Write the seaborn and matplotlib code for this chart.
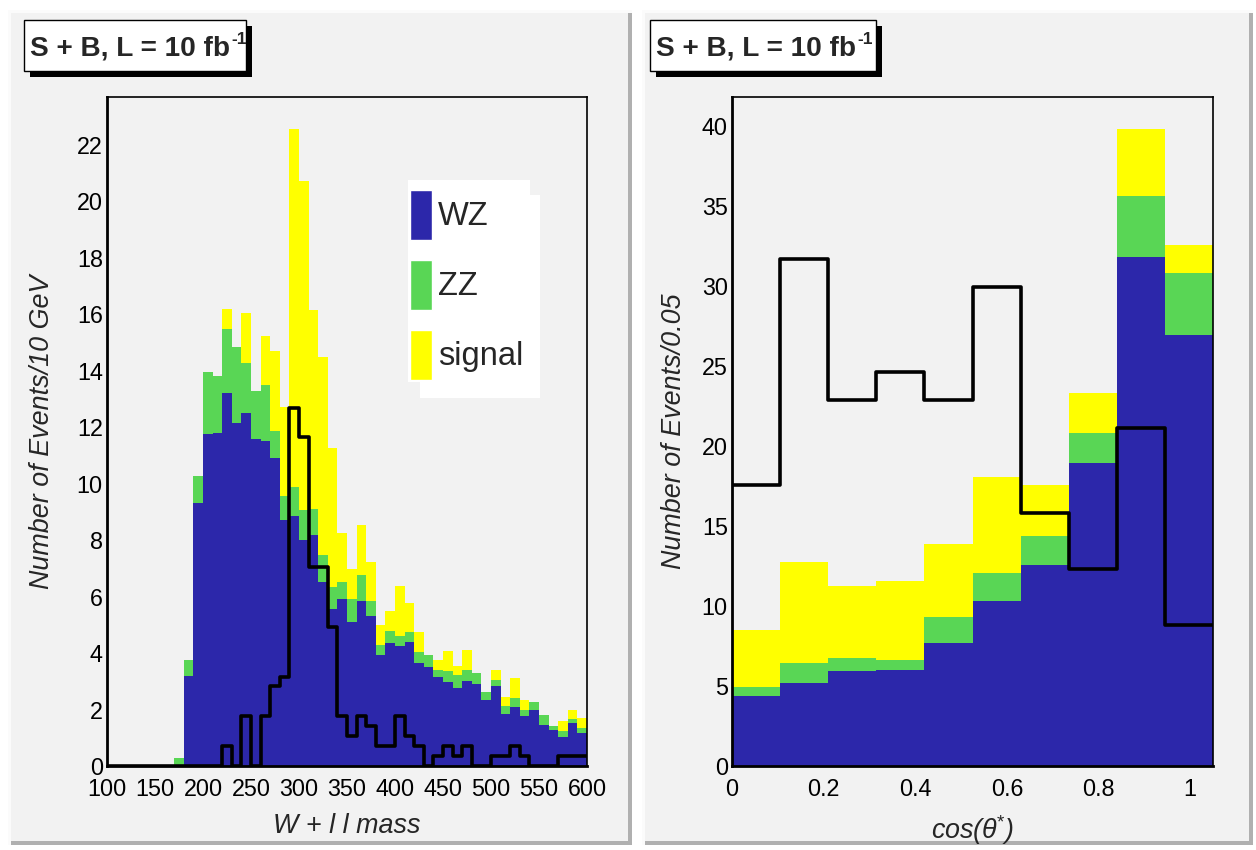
import numpy as np
import pandas as pd
import matplotlib
matplotlib.use("Agg")
import matplotlib.pyplot as plt
from matplotlib import font_manager
from matplotlib.patches import Rectangle, Patch
from matplotlib.ticker import MultipleLocator
import seaborn as sns

# ---------------- data (left panel: W + l l mass, 10 GeV bins from 100 to 600) ----------------
mass_edges_lo = 100
mass_edges_hi = 600
mass_binwidth = 10

wz_mass = [0, 0, 0, 0, 0, 0, 0,
           0, 3.18, 9.31, 11.77, 11.80, 13.22, 12.16, 12.50, 11.60, 11.50, 10.90, 8.70,
           8.87, 8.02, 8.17, 6.51, 5.57, 5.92, 5.09, 5.83, 5.33, 3.95, 4.35, 4.24, 4.41,
           3.64, 3.52, 3.15, 2.99, 2.76, 3.02, 2.90, 2.33, 2.83, 1.85, 2.08, 1.76, 1.97,
           1.47, 1.28, 1.02, 1.53, 1.18]
zz_mass = [0, 0, 0, 0, 0, 0, 0,
           0.29, 0.56, 0.98, 2.18, 2.03, 2.27, 2.70, 1.79, 1.67, 1.98, 0.98, 0.86,
           1.03, 1.05, 0.94, 0.95, 0.76, 0.59, 0.83, 0.95, 0.50, 0.35, 0.45, 0.38, 0.32,
           0.39, 0.43, 0.26, 0.38, 0.45, 0.39, 0.38, 0.30, 0.23, 0.26, 0.34, 0.24, 0.28,
           0.33, 0.15, 0.21, 0.12, 0.18]
signal_mass = [0, 0, 0, 0, 0, 0, 0,
               0, 0, 0, 0, 0, 0.70, 0, 1.76, 0, 1.76, 2.82, 3.17,
               12.67, 11.64, 7.04, 7.04, 4.93, 1.76, 1.06, 1.76, 1.41, 0.70, 0.70, 1.76, 1.06,
               0.70, 0, 0.35, 0.70, 0.35, 0.70, 0, 0, 0.35, 0.35, 0.70, 0.35, 0,
               0, 0, 0.35, 0.35, 0.35]

# ---------------- data (right panel: cos(theta*), 10 bins from 0 to 1.05) ----------------
cos_lo = 0.0
cos_hi = 1.05
cos_nbins = 10
wz_cos = [4.38, 5.21, 5.94, 6.01, 7.70, 10.31, 12.58, 18.92, 31.81, 26.91]
zz_cos = [0.58, 1.21, 0.78, 0.62, 1.62, 1.77, 1.81, 1.90, 3.80, 3.90]
signal_cos = [3.53, 6.35, 4.54, 4.95, 4.57, 5.96, 3.19, 2.46, 4.19, 1.73]
signal_shape_cos = [17.57, 31.69, 22.86, 24.61, 22.86, 29.91, 15.83, 12.31, 21.11, 8.78]

legend_labels = ["WZ", "ZZ", "signal"]
title_main = "S + B, L = 10 fb"
title_sup = "-1"
xlabel_left = "W + l l mass"
ylabel_left = "Number of Events/10 GeV"
xlabel_right = r"cos(θ$^{*}$)"
ylabel_right = "Number of Events/0.05"

# ---------------- style ----------------
C_WZ = "#2c27aa"
C_ZZ = "#59d655"
C_SIG = "#ffff00"
BG = "#f2f2f2"

sns.set_theme(style="white")

names = {f.name for f in font_manager.fontManager.ttflist}
if "Liberation Sans Narrow" in names:
    BASE = "Liberation Sans Narrow"
    SC = 1.0
else:
    BASE = "Liberation Sans"
    SC = 0.84
FAM = [BASE, "Liberation Sans", "DejaVu Sans"]
plt.rcParams["font.family"] = FAM
plt.rcParams["mathtext.fontset"] = "custom"
plt.rcParams["mathtext.rm"] = BASE
plt.rcParams["mathtext.it"] = BASE + ":italic"
plt.rcParams["mathtext.bf"] = BASE + ":bold"

FS_TICK = 20 * SC
FS_LABEL = 23 * SC
FS_LEG = 28 * SC
FS_TITLE = 24 * SC

W, H = 1256, 850
fig = plt.figure(figsize=(W / 100, H / 100), dpi=100)
fig.patch.set_facecolor("white")


def prect(x0, y0, x1, y1, **kw):
    return Rectangle((x0 / W, 1 - y1 / H), (x1 - x0) / W, (y1 - y0) / H,
                     transform=fig.transFigure, **kw)


# pads with bevel
for (x0, x1) in [(8, 632), (642, 1253)]:
    fig.patches.append(prect(x0, 10, x1, 845, facecolor=BG, edgecolor="none", zorder=-10))
    fig.patches.append(prect(x1 - 4, 10, x1, 845, facecolor="#b0b0b0", edgecolor="none", zorder=-9))
    fig.patches.append(prect(x0, 841, x1, 845, facecolor="#b0b0b0", edgecolor="none", zorder=-9))
    fig.patches.append(prect(x0, 10, x1, 13, facecolor="#fbfbfb", edgecolor="none", zorder=-9))
    fig.patches.append(prect(x0, 10, x0 + 3, 845, facecolor="#fbfbfb", edgecolor="none", zorder=-9))

# title boxes
renderer = fig.canvas.get_renderer()
for (bx0, bx1) in [(24, 246), (650, 876)]:
    fig.patches.append(prect(bx0 + 6, 26, bx1 + 6, 77, facecolor="black", edgecolor="none", zorder=1))
    fig.patches.append(prect(bx0, 20, bx1, 71, facecolor="white", edgecolor="black", lw=1.0, zorder=2))
    t = fig.text((bx0 + 6) / W, 1 - 48 / H, title_main, fontsize=FS_TITLE, fontweight="bold",
                 ha="left", va="center", zorder=3, family=FAM)
    bb = t.get_window_extent(renderer)
    fig.text((bb.x1 + 1) / W, (bb.y1 + 3) / H, title_sup, fontsize=FS_TITLE * 0.62,
             fontweight="bold", ha="left", va="top", zorder=3, family=FAM)

axL = fig.add_axes([107 / W, (H - 766) / H, 480 / W, 669 / H])
axR = fig.add_axes([732 / W, (H - 766) / H, 481 / W, 669 / H])

# ---------- left panel ----------
mass_edges = list(np.arange(mass_edges_lo, mass_edges_hi + mass_binwidth, mass_binwidth).astype(float))
mass_centers = np.array(mass_edges[:-1]) + mass_binwidth / 2
dfL = pd.DataFrame({"x": mass_centers, "wz": wz_mass, "zz": zz_mass, "sig": signal_mass})
dfL["wzzz"] = dfL["wz"] + dfL["zz"]
dfL["tot"] = dfL["wzzz"] + dfL["sig"]

for col, c in [("tot", C_SIG), ("wzzz", C_ZZ), ("wz", C_WZ)]:
    sns.histplot(data=dfL, x="x", weights=col, bins=mass_edges, element="step", fill=True,
                 color=c, alpha=1, linewidth=0, ax=axL)
sns.histplot(data=dfL, x="x", weights="sig", bins=mass_edges, element="step", fill=False,
             color="black", linewidth=2.6, ax=axL)

axL.set_xlim(100, 600)
axL.set_ylim(0, 23.7)
axL.xaxis.set_major_locator(MultipleLocator(50))
axL.xaxis.set_minor_locator(MultipleLocator(10))
axL.yaxis.set_major_locator(MultipleLocator(2))
axL.yaxis.set_minor_locator(MultipleLocator(0.5))


def ax_px_rect(ax, x0, y0, x1, y1, ax_x0=107, ax_y1=766, ax_w=480, ax_h=669, **kw):
    return Rectangle(((x0 - ax_x0) / ax_w, (ax_y1 - y1) / ax_h), (x1 - x0) / ax_w, (y1 - y0) / ax_h,
                     transform=ax.transAxes, **kw)


# legend background (box + offset white shadow as in the reference)
axL.add_patch(ax_px_rect(axL, 420, 195, 540, 398, facecolor="white", edgecolor="none", zorder=4))
axL.add_patch(ax_px_rect(axL, 408, 180, 530, 382, facecolor="white", edgecolor="none", zorder=4))
handles = [Patch(facecolor=C_WZ), Patch(facecolor=C_ZZ), Patch(facecolor=C_SIG)]
fs_px = FS_LEG * 100 / 72
hh = (50 / fs_px - 0.245) / 0.65
leg = axL.legend(handles, legend_labels, loc="upper left",
                 bbox_to_anchor=((410 - 107) / 480, (766 - 190) / 669),
                 frameon=False, fontsize=FS_LEG, handlelength=22 / fs_px, handleheight=hh,
                 labelspacing=20 / fs_px, handletextpad=6 / fs_px, borderpad=0, borderaxespad=0)
leg.set_zorder(5)
for t in leg.get_texts():
    t.set_family(FAM)

# ---------- right panel ----------
cos_edges = list(np.linspace(cos_lo, cos_hi, cos_nbins + 1))
cos_centers = (np.array(cos_edges[:-1]) + np.array(cos_edges[1:])) / 2
dfR = pd.DataFrame({"x": cos_centers, "wz": wz_cos, "zz": zz_cos, "sig": signal_cos,
                    "shape": signal_shape_cos})
dfR["wzzz"] = dfR["wz"] + dfR["zz"]
dfR["tot"] = dfR["wzzz"] + dfR["sig"]
for col, c in [("tot", C_SIG), ("wzzz", C_ZZ), ("wz", C_WZ)]:
    sns.histplot(data=dfR, x="x", weights=col, bins=cos_edges, element="step", fill=True,
                 color=c, alpha=1, linewidth=0, ax=axR)
sns.histplot(data=dfR, x="x", weights="shape", bins=cos_edges, element="step", fill=False,
             color="black", linewidth=2.6, ax=axR)
axR.set_xlim(cos_lo, cos_hi)
axR.set_ylim(0, 41.8)
axR.xaxis.set_major_locator(MultipleLocator(0.2))
axR.xaxis.set_minor_locator(MultipleLocator(0.05))
axR.yaxis.set_major_locator(MultipleLocator(5))
axR.yaxis.set_minor_locator(MultipleLocator(1))
axR.set_xticks([0, 0.2, 0.4, 0.6, 0.8, 1.0])
axR.set_xticklabels(["0", "0.2", "0.4", "0.6", "0.8", "1"])

# ---------- common axis styling ----------
for ax, xl, yl, ylx in [(axL, xlabel_left, ylabel_left, -0.108), (axR, xlabel_right, ylabel_right, -0.094)]:
    ax.set_facecolor(BG)
    for name, s in ax.spines.items():
        s.set_color("black")
        s.set_linewidth(2.0 if name in ("left", "bottom") else 1.2)
        s.set_visible(True)
    ax.tick_params(axis="both", which="both", direction="in", top=False, right=False,
                   colors="black", width=1.5)
    ax.tick_params(axis="x", which="major", length=13.5, pad=9, labelsize=FS_TICK)
    ax.tick_params(axis="x", which="minor", length=6.5)
    ax.tick_params(axis="y", which="major", length=11, pad=3, labelsize=FS_TICK)
    ax.tick_params(axis="y", which="minor", length=5.8)
    for lab in ax.get_xticklabels() + ax.get_yticklabels():
        lab.set_family(FAM)
    ax.set_xlabel(xl, fontsize=FS_LABEL, style="italic", family=FAM)
    ax.set_ylabel(yl, fontsize=FS_LABEL, style="italic", family=FAM)
    ax.xaxis.set_label_coords(0.5, -0.07)
    ax.yaxis.set_label_coords(ylx, 0.5)
    ax.grid(False)

fig.savefig("out.png", dpi=100)
